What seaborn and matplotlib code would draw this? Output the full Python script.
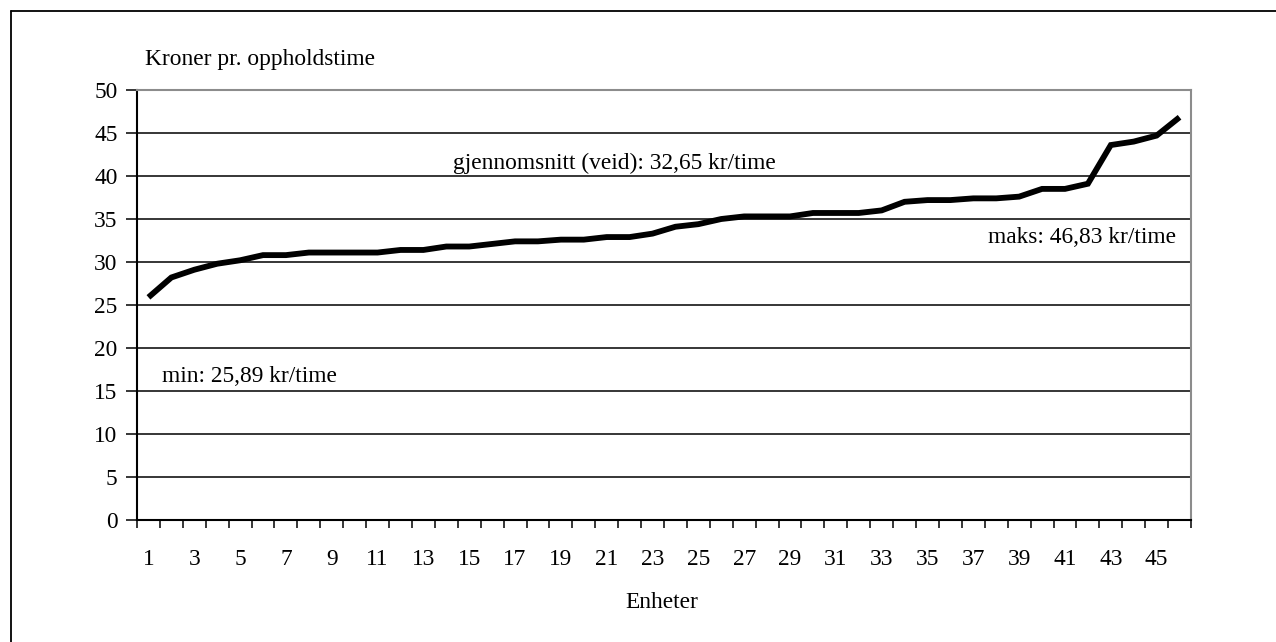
import matplotlib
matplotlib.use("Agg")
import matplotlib.pyplot as plt
from matplotlib.lines import Line2D
import numpy as np
import pandas as pd
import seaborn as sns

# Units sorted by cost per hour of stay
enheter = list(range(1, 47))
kroner = [
    25.89, 28.2, 29.1, 29.8, 30.2, 30.8, 30.8, 31.1, 31.1, 31.1,
    31.1, 31.4, 31.4, 31.8, 31.8, 32.1, 32.4, 32.4, 32.6, 32.6,
    32.9, 32.9, 33.3, 34.1, 34.4, 35.0, 35.3, 35.3, 35.3, 35.7,
    35.7, 35.7, 36.0, 37.0, 37.2, 37.2, 37.4, 37.4, 37.6, 38.5,
    38.5, 39.1, 43.6, 44.0, 44.7, 46.83,
]
y_ticks = [0, 5, 10, 15, 20, 25, 30, 35, 40, 45, 50]
x_labels = [str(i) for i in range(1, 46, 2)]

ylabel_txt = "Kroner pr. oppholdstime"
xlabel_txt = "Enheter"
snitt_txt = "gjennomsnitt (veid): 32,65 kr/time"
maks_txt = "maks: 46,83 kr/time"
min_txt = "min: 25,89 kr/time"

df = pd.DataFrame({"enhet": enheter, "kr": kroner})

sns.set_style("white")
plt.rcParams["font.family"] = ["Liberation Serif", "DejaVu Serif"]
plt.rcParams["text.color"] = "black"
FS = 16.8

fig = plt.figure(figsize=(12.76, 6.42), dpi=100)
ax = fig.add_axes([137 / 1276, 1 - 520 / 642, (1191 - 137) / 1276, 430 / 642])

sns.lineplot(data=df, x="enhet", y="kr", ax=ax, color="black", linewidth=4.2,
             solid_joinstyle="miter", solid_capstyle="butt")

ax.set_xlim(0.5, 46.5)
ax.set_ylim(0, 50)

# horizontal gridlines
for v in y_ticks[1:-1]:
    ax.axhline(v, color="black", linewidth=1.1, zorder=0)

ax.set_yticks(y_ticks)
ax.set_yticklabels([str(v) for v in y_ticks], fontsize=FS, color="black")
ax.tick_params(axis="y", direction="out", length=8, width=1.1, color="black",
               pad=6, left=True)

# category boundaries carry the ticks, odd categories carry the labels
ax.set_xticks(np.arange(0.5, 47, 1.0))
ax.set_xticklabels([])
ax.tick_params(axis="x", which="major", direction="out", length=6, width=1.1,
               color="black", bottom=True)
ax.set_xticks(np.arange(1, 46, 2), minor=True)
ax.set_xticklabels(x_labels, minor=True, fontsize=FS, color="black")
ax.tick_params(axis="x", which="minor", length=0, pad=21)

ax.set_xlabel("")
ax.set_ylabel("")

for side in ["left", "bottom"]:
    ax.spines[side].set_color("black")
    ax.spines[side].set_linewidth(1.5)
for side in ["top", "right"]:
    ax.spines[side].set_color("#8c8c8c")
    ax.spines[side].set_linewidth(1.5)
    ax.spines[side].set_visible(True)

ax.text(0.300, 0.830, snitt_txt, transform=ax.transAxes, fontsize=FS,
        ha="left", va="center")
ax.text(0.986, 0.656, maks_txt, transform=ax.transAxes, fontsize=FS,
        ha="right", va="center")
ax.text(0.0235, 0.333, min_txt, transform=ax.transAxes, fontsize=FS,
        ha="left", va="center")

fig.text(145 / 1276, 1 - 59 / 642, ylabel_txt, fontsize=FS, ha="left", va="center")
fig.text(662 / 1276, 1 - 602 / 642, xlabel_txt, fontsize=FS, ha="center", va="center")

# outer chart frame
fx, fy = 10.5 / 1276, 1 - 10.5 / 642
fig.add_artist(Line2D([fx, 1.0], [fy, fy], transform=fig.transFigure,
                      color="black", linewidth=1.3))
fig.add_artist(Line2D([fx, fx], [0.0, fy], transform=fig.transFigure,
                      color="black", linewidth=1.3))

fig.savefig("out.png", dpi=100)
